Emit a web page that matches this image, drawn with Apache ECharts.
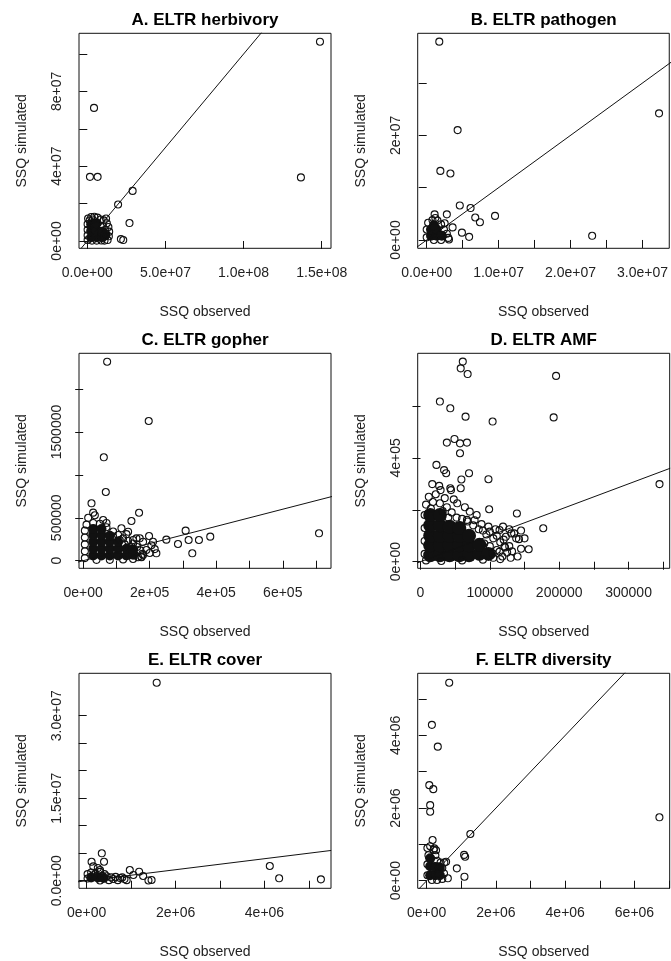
<!DOCTYPE html>
<html><head><meta charset="utf-8">
<script src="https://cdn.jsdelivr.net/npm/echarts@6/dist/echarts.min.js"></script>
<style>html,body{margin:0;padding:0;background:#fff}#c{width:671px;height:961px}</style>
</head><body><div id="c"></div>
<script>
// ---------------- DATA ----------------
const titles = ['A. ELTR herbivory','B. ELTR pathogen','C. ELTR gopher','D. ELTR AMF','E. ELTR cover','F. ELTR diversity'];
const xName = 'SSQ observed';
const yName = 'SSQ simulated';

// axis limits (R usr ranges)
const xLimA=[-5.31e6,1.5595e8], yLimA=[-3.91e6,1.1109e8];
const xLimB=[-1.25e6,3.372e7],  yLimB=[-1.59e6,3.95e7];
const xLimC=[-1.26e4,7.45e5],   yLimC=[-8.86e4,2.417e6];
const xLimD=[-4.0e3,3.593e5],   yLimD=[-2.54e4,8.03e5];
const xLimE=[-1.73e5,5.497e6],  yLimE=[-1.38e6,3.771e7];
const xLimF=[-2.6e5,7.017e6],   yLimF=[-2.09e5,5.709e6];

// ticks and tick labels ('' = tick without label)
const xTicksA=[0,5e7,1e8,1.5e8], xLabelsA=['0.0e+00','5.0e+07','1.0e+08','1.5e+08'];
const yTicksA=[0,2e7,4e7,6e7,8e7,1e8], yLabelsA=['0e+00','','4e+07','','8e+07',''];
const xTicksB=[0,5e6,1e7,1.5e7,2e7,2.5e7,3e7], xLabelsB=['0.0e+00','','1.0e+07','','2.0e+07','','3.0e+07'];
const yTicksB=[0,1e7,2e7,3e7], yLabelsB=['0e+00','','2e+07',''];
const xTicksC=[0,1e5,2e5,3e5,4e5,5e5,6e5,7e5], xLabelsC=['0e+00','','2e+05','','4e+05','','6e+05',''];
const yTicksC=[0,5e5,1e6,1.5e6,2e6], yLabelsC=['0','500000','','1500000',''];
const xTicksD=[0,5e4,1e5,1.5e5,2e5,2.5e5,3e5,3.5e5], xLabelsD=['0','','100000','','200000','','300000',''];
const yTicksD=[0,2e5,4e5,6e5], yLabelsD=['0e+00','','4e+05',''];
const xTicksE=[0,1e6,2e6,3e6,4e6,5e6], xLabelsE=['0e+00','','2e+06','','4e+06',''];
const yTicksE=[0,5e6,1e7,1.5e7,2e7,2.5e7,3e7], yLabelsE=['0.0e+00','','','1.5e+07','','','3.0e+07'];
const xTicksF=[0,1e6,2e6,3e6,4e6,5e6,6e6,7e6], xLabelsF=['0e+00','','2e+06','','4e+06','','6e+06',''];
const yTicksF=[0,1e6,2e6,3e6,4e6,5e6], yLabelsF=['0e+00','','2e+06','','4e+06',''];

// 1:1 reference line end points
const lineA=[[-4e6,-4e6],[1.12e8,1.12e8]];
const lineB=[[-2e6,-2e6],[4e7,4e7]];
const lineC=[[-9e4,-9e4],[7.5e5,7.5e5]];
const lineD=[[-3e4,-3e4],[3.6e5,3.6e5]];
const lineE=[[-1.4e6,-1.4e6],[5.5e6,5.5e6]];
const lineF=[[-2.6e5,-2.6e5],[5.8e6,5.8e6]];

// observed / simulated points (open circles)
const pointsA=[[1.489e8,1.066e8],[4.3e6,7.12e7],[1.7e6,3.43e7],[6.6e6,3.43e7],[1.367e8,3.40e7],[2.9e7,2.68e7],[1.97e7,1.95e7],[2.7e7,9.6e6],[2.15e7,1.0e6],[2.3e7,5e5],[1.2e7,1.2e7],
 [5e5,1.2e7],[2.5e6,1.28e7],[4.5e6,1.3e7],[6.5e6,1.25e7],[8.5e6,1.15e7],[1.05e7,1.1e7],[1.25e7,9.5e6],[1.35e7,7.5e6],[1.4e7,5e6],[1.38e7,2.5e6],[1.3e7,5e5],
 [2e5,9e6],[2e5,6e6],[2e5,3e6],[2e5,5e5],[3e6,2e5],[6e6,2e5],[9e6,3e5],[1.1e7,2e5],[1.0e7,8e6],[1.15e7,6e6],[9e6,5e6],[1.5e6,1.1e7],[3.5e6,1.15e7],[1.2e7,4e6]];
const pointsB=[[1.75e6,3.79e7],[3.23e7,2.42e7],[4.3e6,2.10e7],[1.9e6,1.32e7],[3.3e6,1.27e7],[4.6e6,6.6e6],[6.1e6,6.1e6],[6.75e6,4.3e6],[7.4e6,3.4e6],[9.5e6,4.6e6],[4.9e6,1.4e6],[5.9e6,6e5],[2.30e7,8e5],[2.8e6,4.9e6],[1.1e6,4.9e6],[3.1e6,1e5],
 [0,5e5],[0,2e6],[2e5,3.3e6],[8e5,3.8e6],[1.5e6,3.7e6],[2e6,3e6],[2.4e6,2e6],[2.8e6,1.2e6],[3e6,4e5],[2e6,0],[1e6,0],[2.5e6,3.2e6],[1.2e6,4.2e6],[3.6e6,2.4e6]];
const pointsC=[[7.2e4,2.319e6],[1.97e5,1.628e6],[6.2e4,1.205e6],[6.8e4,8.01e5],[7.09e5,3.19e5],[2.5e4,6.69e5],[1.68e5,5.59e5],[1.45e5,4.63e5],[3.08e5,3.50e5],[3.82e5,2.80e5],[3.48e5,2.41e5],[3.17e5,2.41e5],[2.85e5,1.95e5],[2.5e5,2.45e5],[3.28e5,8.6e4],[1.98e5,2.88e5],[2.1e5,2.2e5],[2.15e5,1.35e5],[1.9e5,1.25e5],[1.15e5,3.78e5],[1.75e5,4.7e4],[2.05e5,1.8e5],[1.8e5,2.2e5],[1.6e5,2.6e5],[1.3e5,3.1e5],[2.0e5,9e4],[1.35e5,3.38e5],[1.5e5,2.41e5],[1.7e5,2.61e5],[2.2e5,8.6e4],[1.8e5,6.6e4],[1.65e5,4e4],[3e4,5.6e5],[6e4,4.74e5],[1.5e4,5.0e5],[3.5e4,5.3e5],[7e4,4.4e5],
 [1e4,4.2e5],[3e4,4.4e5],[5e4,4.3e5],[7e4,3.9e5],[9e4,3.4e5],[1.05e5,3.0e5],[1.2e5,2.6e5],[1.35e5,2.3e5],[1.5e5,2.0e5],[1.62e5,1.6e5],[1.72e5,1.2e5],[1.78e5,8e4],[1.75e5,4e4],[5e3,3.5e5],[5e3,2.7e5],[5e3,1.9e5],[5e3,1.1e5],[5e3,3e4],[4e4,1e4],[8e4,1e4],[1.2e5,1.5e4],[1.5e5,2e4],[9e4,2.8e5],[1.1e5,2.4e5],[1.25e5,1.9e5],[1.4e5,1.6e5]];
const pointsD=[[6.1e4,7.71e5],[5.8e4,7.45e5],[6.8e4,7.23e5],[1.955e5,7.16e5],[2.8e4,6.17e5],[4.3e4,5.91e5],[6.5e4,5.59e5],[1.04e5,5.40e5],[1.92e5,5.56e5],[3.8e4,4.59e5],[4.9e4,4.73e5],[5.7e4,4.56e5],[6.7e4,4.59e5],[5.7e4,4.18e5],[2.3e4,3.73e5],[3.4e4,3.53e5],[3.7e4,3.41e5],[7.0e4,3.41e5],[5.9e4,3.17e5],[1.7e4,2.99e5],[2.7e4,2.92e5],[4.4e4,2.76e5],[5.8e4,2.83e5],[4.3e4,2.83e5],[2.9e4,2.76e5],[9.8e4,3.18e5],[3.446e5,2.99e5],[9.9e4,2.02e5],[1.39e5,1.86e5],[1.77e5,1.29e5],[1.56e5,4.8e4],[1.42e5,8.7e4],[1.28e5,1.25e5],[1.35e5,1.09e5],[1.19e5,1.35e5],[5.3e4,2.25e5],[6.4e4,2.1e5],[7.1e4,1.93e5],[6.7e4,1.61e5],[8.1e4,1.8e5],[1.0e5,1.16e5],[1.14e5,1.22e5],[1.23e5,9.6e4],[1.31e5,1.09e5],[1.38e5,9e4],[1.21e5,5.8e4],[1.14e5,3.9e4],[1.04e5,3.2e4],
 [8e3,2.2e5],[1.8e4,2.3e5],[2.8e4,2.25e5],[3.8e4,2.1e5],[6e3,1.8e5],[6e3,1.3e5],[6e3,8e4],[6e3,3e4],[8e3,5e3],[4.5e4,1.9e5],[5.2e4,1.7e5],[6e4,1.65e5],[6.8e4,1.55e5],[7.6e4,1.4e5],[8.4e4,1.25e5],[9e4,1.2e5],[9.5e4,1.05e5],[1.05e5,9e4],[1.1e5,1.0e5],[1.15e5,7.5e4],[1.2e5,8.5e4],[1.22e5,5.5e4],[1.25e5,3.5e4],[1.18e5,2e4],[1.28e5,6e4],[1.1e5,4.5e4],[1.0e5,6e4],[9.2e4,7e4],[1.15e5,1e4],[1.3e5,1.5e4],[1.32e5,4e4],[3e4,3e3],[6e4,5e3],[9e4,8e3],
 [1.2e4,2.5e5],[2.2e4,2.6e5],[3.5e4,2.45e5],[4.8e4,2.4e5],[1.5e4,2.05e5],[3.2e4,1.95e5],[4e4,1.7e5],[7.8e4,1.6e5],[8.8e4,1.45e5],[9.8e4,1.35e5],[1.08e5,1.25e5],[1.45e5,1.2e5],[1.5e5,9e4],[1.45e5,5e4],[1.4e5,2e4],[1.05e5,1.5e4]];
const pointsE=[[1.575e6,3.60e7],[4.12e6,2.67e6],[4.33e6,4.4e5],[5.27e6,2.5e5],[3.4e5,4.98e6],[1.1e5,3.45e6],[3.9e5,3.45e6],[3.0e5,1.95e6],[9.7e5,1.95e6],[1.18e6,1.64e6],[1.27e6,8.5e5],[1.46e6,1.3e5],[1.39e6,5e4],[1.05e6,1.04e6],[1.5e5,2.6e6],[2.5e5,2.3e6],
 [2e4,1.2e6],[1e5,1.5e6],[2e5,1.3e6],[3e5,1.6e6],[4e5,1.2e6],[4.5e5,8e5],[5.5e5,6e5],[6.5e5,7e5],[7.5e5,5e5],[8.5e5,3e5],[9e5,1e5],[7e5,1e5],[5e5,1e5],[3e5,5e4],[2e4,4e5],[6e5,3e5],[8e5,6e5],[1.5e5,1.0e6],[3.5e5,9e5]];
const pointsF=[[6.5e5,5.45e6],[1.5e5,4.29e6],[3.2e5,3.69e6],[7.5e4,2.63e6],[1.9e5,2.52e6],[1.0e5,2.08e6],[1.0e5,1.90e6],[6.72e6,1.745e6],[1.26e6,1.285e6],[1.7e5,1.12e6],[1.08e6,7.1e5],[1.11e6,6.6e5],[8.7e5,3.4e5],[1.09e6,1.1e5],[6.1e5,6.6e4],[5.6e5,5.2e5],[5.1e5,5.0e5],[2.7e5,8.4e5],[2.2e5,8.9e5],
 [2e4,9e5],[1e5,9.5e5],[2e5,8.5e5],[5e4,7e5],[2e4,4.5e5],[2e4,1.5e5],[2.5e5,7e5],[3e5,5.5e5],[4e5,5e5],[4.5e5,3.5e5],[5e5,2e5],[4.5e5,5e4],[3e5,2e4],[1.5e5,2e4],[3.5e5,4e5]];

// points inside the densely overplotted clusters
const coreA=[[2.5e6,2e6],[2.5e6,5.5e6],[2.5e6,9e6],[6e6,2e6],[6e6,5.5e6],[6e6,9.5e6],[9.5e6,2e6],[9.5e6,5e6],[1.15e7,3e6]];
const coreB=[[6e5,8e5],[6e5,2e6],[1.4e6,8e5],[1.4e6,2e6],[1e6,2.8e6],[2.1e6,8e5]];
const coreC=[[3e4,6e4],[3e4,1.4e5],[3e4,2.2e5],[3e4,3.0e5],[3e4,3.7e5],[5.5e4,6e4],[5.5e4,1.4e5],[5.5e4,2.2e5],[5.5e4,3.0e5],[5.5e4,3.7e5],[8e4,6e4],[8e4,1.4e5],[8e4,2.2e5],[8e4,2.9e5],[1.05e5,6e4],[1.05e5,1.4e5],[1.05e5,2.2e5],[1.3e5,6e4],[1.3e5,1.4e5],[1.5e5,7e4],[1.5e5,1.3e5]];
const coreD=[[1.4e4,2.5e4],[1.4e4,6.3e4],[1.4e4,1.0e5],[1.4e4,1.4e5],[1.4e4,1.8e5],[2.8e4,2.5e4],[2.8e4,6.3e4],[2.8e4,1.0e5],[2.8e4,1.4e5],[2.8e4,1.8e5],[4.2e4,2.5e4],[4.2e4,6.3e4],[4.2e4,1.0e5],[4.2e4,1.35e5],[5.6e4,2.5e4],[5.6e4,6.3e4],[5.6e4,1.0e5],[5.6e4,1.3e5],[7.0e4,2.5e4],[7.0e4,6.3e4],[7.0e4,1.0e5],[8.5e4,3e4],[8.5e4,6.5e4],[9.8e4,3e4]];
const coreE=[[1e5,6e5],[2.5e5,6e5],[3.8e5,5e5]];
const coreF=[[1e5,1.5e5],[1e5,4e5],[1e5,6.2e5],[2.5e5,1.5e5],[2.5e5,3.8e5],[3.8e5,1.5e5],[3.8e5,3.5e5]];

// ---------------- LAYOUT ----------------
const FONT='"Liberation Sans", Arial, Helvetica, sans-serif';
const INK='#111';
const colLeft=[79,417.7], colW=252, rowTop=[33.3,353.3,673.3], rowH=215;
const panels=[
 {xl:xLimA,yl:yLimA,xt:xTicksA,xs:xLabelsA,yt:yTicksA,ys:yLabelsA,pts:pointsA,core:coreA,line:lineA,cs:10},
 {xl:xLimB,yl:yLimB,xt:xTicksB,xs:xLabelsB,yt:yTicksB,ys:yLabelsB,pts:pointsB,core:coreB,line:lineB,cs:10},
 {xl:xLimC,yl:yLimC,xt:xTicksC,xs:xLabelsC,yt:yTicksC,ys:yLabelsC,pts:pointsC,core:coreC,line:lineC,cs:10},
 {xl:xLimD,yl:yLimD,xt:xTicksD,xs:xLabelsD,yt:yTicksD,ys:yLabelsD,pts:pointsD,core:coreD,line:lineD,cs:14},
 {xl:xLimE,yl:yLimE,xt:xTicksE,xs:xLabelsE,yt:yTicksE,ys:yLabelsE,pts:pointsE,core:coreE,line:lineE,cs:10},
 {xl:xLimF,yl:yLimF,xt:xTicksF,xs:xLabelsF,yt:yTicksF,ys:yLabelsF,pts:pointsF,core:coreF,line:lineF,cs:10}
];
const txt={fontFamily:FONT,fontSize:14,color:'#222'};
const grid=[],xAxis=[],yAxis=[],series=[],title=[];
function labelled(t,s){return t.filter((v,k)=>s[k]!=='');}
function fmt(t,s){return v=>{const k=t.indexOf(v);return k>=0?s[k]:'';};}
panels.forEach((p,i)=>{
  const c=i%2,r=Math.floor(i/2);
  grid.push({left:colLeft[c],top:rowTop[r],width:colW,height:rowH,show:true,borderColor:INK,borderWidth:1,backgroundColor:'transparent'});
  title.push({text:titles[i],left:colLeft[c]+colW/2,top:rowTop[r]-21,textAlign:'center',padding:0,
    textStyle:{fontFamily:FONT,fontSize:17,fontWeight:'bold',color:'#000'}});
  xAxis.push({type:'value',gridIndex:i,min:p.xl[0],max:p.xl[1],splitLine:{show:false},axisLine:{show:false},
    axisTick:{show:true,length:8,customValues:p.xt,lineStyle:{color:INK,width:1}},
    axisLabel:Object.assign({customValues:labelled(p.xt,p.xs),formatter:fmt(p.xt,p.xs),margin:18},txt),
    name:xName,nameLocation:'middle',nameGap:57,nameTextStyle:txt});
  yAxis.push({type:'value',gridIndex:i,min:p.yl[0],max:p.yl[1],splitLine:{show:false},axisLine:{show:false},
    axisTick:{show:true,length:8,customValues:p.yt,lineStyle:{color:INK,width:1}},
    axisLabel:Object.assign({customValues:labelled(p.yt,p.ys),formatter:fmt(p.yt,p.ys),margin:15,rotate:90},txt),
    name:yName,nameLocation:'middle',nameGap:50,nameTextStyle:txt});
  series.push({type:'scatter',xAxisIndex:i,yAxisIndex:i,data:p.core,symbol:'circle',symbolSize:p.cs,
    itemStyle:{color:INK,opacity:1},silent:true,z:2});
  series.push({type:'scatter',xAxisIndex:i,yAxisIndex:i,data:p.pts,symbol:'circle',symbolSize:7,
    itemStyle:{color:'rgba(0,0,0,0)',borderColor:INK,borderWidth:1.1,opacity:1},silent:true,z:3});
  series.push({type:'line',xAxisIndex:i,yAxisIndex:i,data:p.line,symbol:'none',showSymbol:false,
    lineStyle:{color:INK,width:1},clip:true,silent:true,z:4});
});
const chart=echarts.init(document.getElementById('c'),null,{renderer:'canvas'});
chart.setOption({animation:false,backgroundColor:'#fff',title,grid,xAxis,yAxis,series});
</script></body></html>
